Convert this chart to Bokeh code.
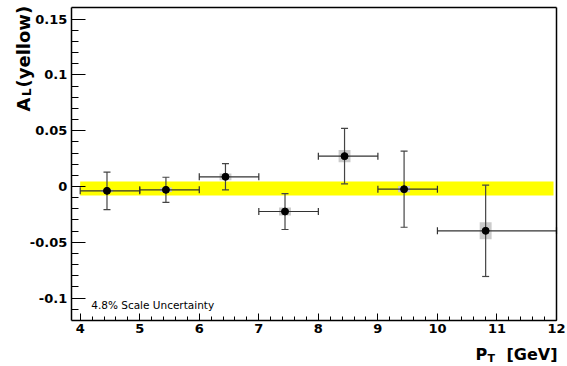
import numpy as np
from bokeh.plotting import figure
from bokeh.models import (Label, SingleIntervalTicker, FixedTicker, CustomJSTickFormatter,
                          ColumnDataSource, Range1d, LinearAxis)
from bokeh.embed import file_html
from bokeh.resources import INLINE

# ---- data ----
pt = [4.45, 5.44, 6.44, 7.44, 8.44, 9.44, 10.81]          # bin centres (GeV)
pt_lo = [4, 5, 6, 7, 8, 9, 10]                            # bin low edges
pt_hi = [5, 6, 7, 8, 9, 10, 12]                           # bin high edges
al = [-0.0039, -0.0030, 0.0087, -0.0224, 0.0272, -0.0024, -0.0397]   # A_L values
stat = [0.0168, 0.0113, 0.0118, 0.0161, 0.0248, 0.0341, 0.0409]     # stat errors
sys = [0.0012, 0.0020, 0.0030, 0.0036, 0.0054, 0.0028, 0.0076]      # sys errors
band_x = [4.0, 11.95]          # extent of the yellow band
band_y = [-0.0081, 0.0045]     # lower / upper edge of the yellow band
x_axis_span = [3.85, 12.0]     # axis extent (frame of the histogram)
y_axis_span = [-0.12, 0.16]

FONT = "DejaVu Sans"
W, H = 567, 366

al_a = np.array(al)
st_a = np.array(stat)
sy_a = np.array(sys)
src = ColumnDataSource(dict(
    x=pt, xlo=pt_lo, xhi=pt_hi, y=al,
    ylo=list(al_a - st_a), yhi=list(al_a + st_a),
    sh=list(2 * sy_a),
))

# the plotting region covers the whole canvas; the axes are pinned to the
# histogram frame with fixed_location so that titles can sit in the margins
p = figure(width=W, height=H, output_backend="svg", toolbar_location=None,
           x_range=Range1d(2.6614, 12.1847), y_range=Range1d(-0.16122, 0.16659),
           x_axis_location=None, y_axis_location=None,
           min_border_left=0, min_border_right=0, min_border_top=0,
           min_border_bottom=0)
p.background_fill_color = "white"
p.border_fill_color = "white"
p.outline_line_color = None
p.xgrid.visible = False
p.ygrid.visible = False

# yellow band
p.quad(left=[band_x[0]], right=[band_x[1]], bottom=[band_y[0]], top=[band_y[1]],
       fill_color="#ffff00", line_color=None)
# systematic boxes
p.rect(x="x", y="y", width=0.2, height="sh", source=src,
       fill_color="#cbcbcb", line_color=None)
# horizontal bars
p.segment(x0="xlo", x1="xhi", y0="y", y1="y", source=src,
          line_color="#333333", line_width=1.2)
p.scatter(x="xlo", y="y", source=src, marker="dash", angle=np.pi / 2, size=7,
          line_color="#333333", line_width=1.2)
p.scatter(x="xhi", y="y", source=src, marker="dash", angle=np.pi / 2, size=7,
          line_color="#333333", line_width=1.2)
# vertical bars
p.segment(x0="x", x1="x", y0="ylo", y1="yhi", source=src,
          line_color="#444444", line_width=1.2)
p.scatter(x="x", y="ylo", source=src, marker="dash", size=7,
          line_color="#444444", line_width=1.2)
p.scatter(x="x", y="yhi", source=src, marker="dash", size=7,
          line_color="#444444", line_width=1.2)
# points
p.scatter(x="x", y="y", source=src, size=7, fill_color="black", line_color="black")


def style(ax):
    ax.axis_line_color = "black"
    ax.axis_line_width = 1.5
    ax.major_tick_line_color = "black"
    ax.minor_tick_line_color = "black"
    ax.major_tick_out = 0
    ax.minor_tick_out = 0
    ax.major_label_text_font = FONT
    ax.major_label_text_font_style = "bold"
    ax.major_label_text_font_size = "13px"
    ax.major_label_text_color = "black"


xax = LinearAxis(fixed_location=y_axis_span[0], bounds=tuple(x_axis_span),
                 ticker=SingleIntervalTicker(interval=1, num_minor_ticks=5))
style(xax)
xax.major_tick_in = 7
xax.minor_tick_in = 4
xax.major_label_standoff = 4
p.add_layout(xax, "below")

yax = LinearAxis(fixed_location=x_axis_span[0], bounds=tuple(y_axis_span),
                 ticker=SingleIntervalTicker(interval=0.05, num_minor_ticks=5))
style(yax)
yax.major_tick_in = 14
yax.minor_tick_in = 7
yax.major_label_standoff = 4
yax.formatter = CustomJSTickFormatter(
    code="if (Math.abs(tick) < 1e-9) { return '0'; } return String(parseFloat(tick.toFixed(3)));")
p.add_layout(yax, "left")

# frame lines on top and right
tax = LinearAxis(fixed_location=y_axis_span[1], bounds=tuple(x_axis_span),
                 ticker=FixedTicker(ticks=[]))
style(tax)
tax.major_label_text_font_size = "0px"
p.add_layout(tax, "above")
rax = LinearAxis(fixed_location=x_axis_span[1], bounds=tuple(y_axis_span),
                 ticker=FixedTicker(ticks=[]))
style(rax)
rax.major_label_text_font_size = "0px"
p.add_layout(rax, "right")


def lab(text, x, y, size, angle=0.0, bold=True, align="left"):
    p.add_layout(Label(x=x, y=y, x_units="screen", y_units="screen", text=text,
                       angle=angle, text_font=FONT,
                       text_font_style="bold" if bold else "normal",
                       text_font_size=size, text_align=align,
                       text_baseline="alphabetic", text_color="black"))


# y title: A_L (yellow)   (screen units measured from the bottom-left corner)
lab("A", 23, H - 111, "18px", angle=np.pi / 2)
lab("L", 26, H - 95.5, "12px", angle=np.pi / 2)
lab("(yellow)", 23, H - 87, "18px", angle=np.pi / 2)

# x title: P_T [GeV]
lab("P", 475, H - 354, "16px")
lab("T", 487, H - 357.5, "11px")
lab("[GeV]", 557, H - 354, "16px", align="right")

# scale uncertainty note
lab("4.8% Scale Uncertainty", 90.7, H - 304, "10.5px", bold=False)

open("out.html", "w").write(file_html(p, INLINE))
